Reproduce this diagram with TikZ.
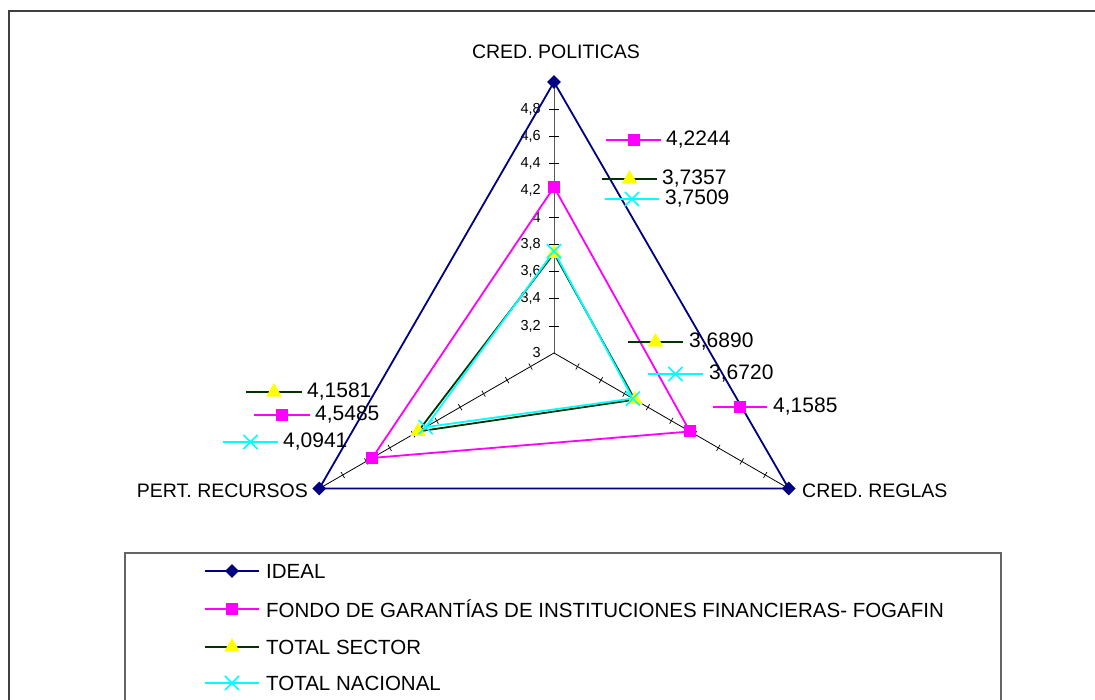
\documentclass[tikz,border=0pt]{standalone}
\usepackage{fontspec}
\setmainfont{Liberation Sans}
\usetikzlibrary{shapes.geometric,shapes.misc,calc}
\definecolor{navyc}{RGB}{0,0,128}
\definecolor{magc}{RGB}{255,0,255}
\definecolor{grnc}{RGB}{0,51,0}
\definecolor{cyac}{RGB}{0,255,255}
\definecolor{yelc}{RGB}{255,255,0}
\definecolor{framec}{RGB}{64,64,64}
\definecolor{legc}{RGB}{100,100,100}
\begin{document}
\begin{tikzpicture}[x=1pt,y=-1pt,
  idealline/.style={draw=navyc,line width=1.8pt,line join=miter},
  fogline/.style={draw=magc,line width=1.8pt},
  secline/.style={draw=grnc,line width=1.8pt},
  nacline/.style={draw=cyac,line width=1.8pt},
  mdiamond/.style={diamond,fill=navyc,inner sep=0pt,minimum width=14pt,minimum height=14pt},
  msquare/.style={rectangle,fill=magc,inner sep=0pt,minimum size=12pt},
  mtri/.style={regular polygon,regular polygon sides=3,fill=yelc,inner sep=0pt,minimum size=18pt},
  mcross/.style={cross out,draw=cyac,line width=1.6pt,inner sep=0pt,minimum size=12.5pt},
  axisline/.style={draw=black,line width=0.8pt},
  ticktext/.style={font=\fontsize{14.5}{16}\selectfont,anchor=east,inner sep=0pt},
  cattext/.style={font=\fontsize{19.5}{22}\selectfont,inner sep=0pt},
  valtext/.style={font=\fontsize{21}{24}\selectfont,anchor=west,inner sep=0pt},
  legtext/.style={font=\fontsize{20.5}{23}\selectfont,anchor=west,inner sep=0pt},
]
\useasboundingbox (0,0) rectangle (1095,699);
% outer frame
\draw[framec,line width=2pt] (1100,11) -- (9,11) -- (9,705);

% geometry
\coordinate (C) at (554,353);
\coordinate (P5) at ($(C)+(-90:271)$);
\coordinate (G5) at ($(C)+(30:271)$);
\coordinate (R5) at ($(C)+(150:271)$);

% axes
\draw[gray!70!black,line width=0.8pt] (C) -- (P5);
\draw[axisline] (C) -- (G5);
\draw[axisline] (C) -- (R5);
\foreach \i in {1,...,10}{
  \draw[black,line width=0.8pt] ($(C)+(-90:\i*27.1)+(-5,0)$) -- ($(C)+(-90:\i*27.1)+(5,0)$);
  \draw[black,line width=0.7pt] ($(C)+(30:\i*27.1)+(120:3.5)$) -- ($(C)+(30:\i*27.1)+(-60:3.5)$);
  \draw[black,line width=0.7pt] ($(C)+(150:\i*27.1)+(60:3.5)$) -- ($(C)+(150:\i*27.1)+(240:3.5)$);
}
\foreach \i/\t in {0/3,1/{3,2},2/{3,4},3/{3,6},4/{3,8},5/4,6/{4,2},7/{4,4},8/{4,6},9/{4,8}}{
  \node[ticktext] (tk\i) at (541,{353-\i*27.1}) {\t};
}

% category labels
\node[cattext] (catP) at (556,52) {CRED. POLITICAS};
\node[cattext,anchor=west] (catG) at (802,491) {CRED. REGLAS};
\node[cattext,anchor=east] (catR) at (308,491) {PERT. RECURSOS};

% data points
\coordinate (FP) at ($(C)+(-90:{(4.2244-3)*135.5})$);
\coordinate (FG) at ($(C)+(30:{(4.1585-3)*135.5})$);
\coordinate (FR) at ($(C)+(150:{(4.5485-3)*135.5})$);
\coordinate (SP) at ($(C)+(-90:{(3.7357-3)*135.5})$);
\coordinate (SG) at ($(C)+(30:{(3.6890-3)*135.5})$);
\coordinate (SR) at ($(C)+(150:{(4.1581-3)*135.5})$);
\coordinate (NP) at ($(C)+(-90:{(3.7509-3)*135.5})$);
\coordinate (NG) at ($(C)+(30:{(3.6720-3)*135.5})$);
\coordinate (NR) at ($(C)+(150:{(4.0941-3)*135.5})$);

% series lines
\draw[idealline] (P5) -- (G5) -- (R5) -- cycle;
\draw[fogline] (FP) -- (FG) -- (FR) -- cycle;
\draw[secline] (SP) -- (SG) -- (SR) -- cycle;
\draw[nacline] (NP) -- (NG) -- (NR) -- cycle;

% markers
\node[mdiamond] (mP5) at (P5) {};
\node[mdiamond] (mG5) at (G5) {};
\node[mdiamond] (mR5) at (R5) {};
\node[msquare] (mFP) at (FP) {};
\node[msquare] (mFG) at (FG) {};
\node[msquare] (mFR) at (FR) {};
\node[mtri] (mSP) at (SP) {};
\node[mtri] (mSG) at (SG) {};
\node[mtri] (mSR) at (SR) {};
\node[mcross] (mNP) at (NP) {};
\node[mcross] (mNG) at (NG) {};
\node[mcross] (mNR) at (NR) {};

% data labels
% 4,2244
\coordinate (a1) at (606,140); \coordinate (b1) at (661,140);
\draw[fogline] (a1) -- (b1);
\node[msquare] (k1) at ($(a1)!0.5!(b1)$) {};
\node[valtext] (v1) at (666,140) {4,2244};
% 3,7357
\coordinate (a2) at (602,179); \coordinate (b2) at (657,179);
\draw[secline] (a2) -- (b2);
\node[mtri] (k2) at ($(a2)!0.5!(b2)$) {};
\node[valtext] (v2) at (662,179) {3,7357};
% 3,7509
\coordinate (a3) at (605,199); \coordinate (b3) at (659,199);
\draw[nacline] (a3) -- (b3);
\node[mcross] (k3) at ($(a3)!0.5!(b3)$) {};
\node[valtext] (v3) at (665,199) {3,7509};
% 3,6890
\coordinate (a4) at (628,342); \coordinate (b4) at (683,342);
\draw[secline] (a4) -- (b4);
\node[mtri] (k4) at ($(a4)!0.5!(b4)$) {};
\node[valtext] (v4) at (689,342) {3,6890};
% 3,6720
\coordinate (a5) at (648,374); \coordinate (b5) at (703,374);
\draw[nacline] (a5) -- (b5);
\node[mcross] (k5) at ($(a5)!0.5!(b5)$) {};
\node[valtext] (v5) at (709,374) {3,6720};
% 4,1585
\coordinate (a6) at (713,407); \coordinate (b6) at (767,407);
\draw[fogline] (a6) -- (b6);
\node[msquare] (k6) at ($(a6)!0.5!(b6)$) {};
\node[valtext] (v6) at (773,407) {4,1585};
% 4,1581
\coordinate (a7) at (246,392); \coordinate (b7) at (302,392);
\draw[secline] (a7) -- (b7);
\node[mtri] (k7) at ($(a7)!0.5!(b7)$) {};
\node[valtext] (v7) at (307,392) {4,1581};
% 4,5485
\coordinate (a8) at (254,415); \coordinate (b8) at (310,415);
\draw[fogline] (a8) -- (b8);
\node[msquare] (k8) at ($(a8)!0.5!(b8)$) {};
\node[valtext] (v8) at (315,415) {4,5485};
% 4,0941
\coordinate (a9) at (223,442); \coordinate (b9) at (278,442);
\draw[nacline] (a9) -- (b9);
\node[mcross] (k9) at ($(a9)!0.5!(b9)$) {};
\node[valtext] (v9) at (283,442) {4,0941};

% legend
\draw[legc,line width=1.5pt] (125,705) -- (125,553) -- (1001,553) -- (1001,705);
\coordinate (la1) at (205,571); \coordinate (lb1) at (259,571);
\draw[idealline] (la1) -- (lb1);
\node[mdiamond] (lk1) at ($(la1)!0.5!(lb1)$) {};
\node[legtext] (lt1) at (266,571) {IDEAL};
\coordinate (la2) at (205,609); \coordinate (lb2) at (259,609);
\draw[fogline] (la2) -- (lb2);
\node[msquare] (lk2) at ($(la2)!0.5!(lb2)$) {};
\node[legtext] (lt2) at (266,609) {FONDO DE GARANTÍAS DE INSTITUCIONES FINANCIERAS- FOGAFIN};
\coordinate (la3) at (205,647); \coordinate (lb3) at (259,647);
\draw[secline] (la3) -- (lb3);
\node[mtri] (lk3) at ($(la3)!0.5!(lb3)$) {};
\node[legtext] (lt3) at (266,647) {TOTAL SECTOR};
\coordinate (la4) at (205,683); \coordinate (lb4) at (259,683);
\draw[nacline] (la4) -- (lb4);
\node[mcross] (lk4) at ($(la4)!0.5!(lb4)$) {};
\node[legtext] (lt4) at (266,683) {TOTAL NACIONAL};
\end{tikzpicture}
\end{document}
